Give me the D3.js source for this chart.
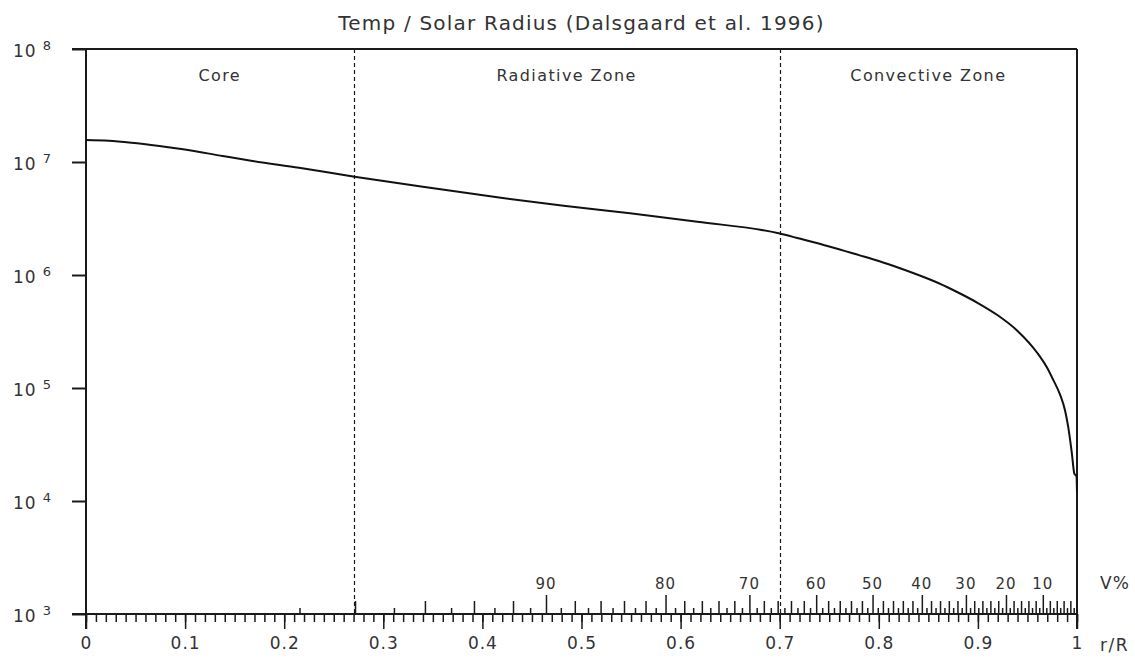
<!DOCTYPE html>
<html>
<head>
<meta charset="utf-8">
<script src="https://cdn.jsdelivr.net/npm/d3@7/dist/d3.min.js"></script>
<style>
  html, body { margin: 0; padding: 0; background: #fff; }
  svg { display: block; font-family: "DejaVu Sans", Verdana, sans-serif; }
</style>
</head>
<body>
<svg id="chart" width="1135" height="661"></svg>
<script>
// ---- data ----
const title = "Temp / Solar Radius (Dalsgaard et al. 1996)";
const radius = [0, 0.023, 0.046, 0.074, 0.098, 0.138, 0.168, 0.215, 0.271, 0.347, 0.415, 0.482, 0.549, 0.617, 0.699,
                0.72, 0.75, 0.78, 0.80, 0.82, 0.84, 0.86, 0.88, 0.90, 0.92, 0.94, 0.96, 0.97, 0.976, 0.983, 0.988, 0.991, 0.9947, 0.9973, 0.9995, 1.0];
const temperature = [1.566e7, 1.544e7, 1.482e7, 1.385e7, 1.295e7, 1.130e7, 1.021e7, 8.90e6, 7.41e6, 5.91e6, 4.87e6, 4.11e6, 3.52e6, 2.96e6, 2.34e6,
                     2.10e6, 1.79e6, 1.50e6, 1.33e6, 1.16e6, 1.00e6, 8.5e5, 7.0e5, 5.65e5, 4.4e5, 3.2e5, 2.04e5, 1.5e5, 1.18e5, 8.7e4, 6.3e4, 4.6e4, 2.7e4, 1.75e4, 1.65e4, 1.2e4];
const zoneBounds = [0.27, 0.7];
const zoneLabels = ["Core", "Radiative Zone", "Convective Zone"];
const xTicksMajor = [0, 0.1, 0.2, 0.3, 0.4, 0.5, 0.6, 0.7, 0.8, 0.9, 1];
const xTickLabels = ["0", "0.1", "0.2", "0.3", "0.4", "0.5", "0.6", "0.7", "0.8", "0.9", "1"];
const yTickExponents = [3, 4, 5, 6, 7, 8];
const volumePercents = d3.range(1, 100);          // V% ticks every 1 %
const volumeLabels = [90, 80, 70, 60, 50, 40, 30, 20, 10];

// ---- layout ----
const svg = d3.select("#chart");
const L = 86, R = 1077, T = 49, B = 614;
const x = d3.scaleLinear().domain([0, 1]).range([L, R]);
const y = d3.scaleLog().domain([1e3, 1e8]).range([B, T]);
const ink = "#1a1a1a";
const textCol = "#333";
const rOfV = v => Math.cbrt(1 - v / 100);

// title
svg.append("text").attr("x", (L + R) / 2).attr("y", 30).attr("text-anchor", "middle")
  .attr("font-size", 20).attr("letter-spacing", 1.2).attr("fill", textCol).text(title);

// zone labels
const edges = [0, ...zoneBounds, 1];
zoneLabels.forEach((lab, i) => {
  svg.append("text").attr("x", (x(edges[i]) + x(edges[i + 1])) / 2).attr("y", 81)
    .attr("text-anchor", "middle").attr("font-size", 16).attr("letter-spacing", 1.4)
    .attr("fill", textCol).text(lab);
});

// dashed zone boundaries
svg.selectAll("line.zone").data(zoneBounds).enter().append("line")
  .attr("x1", d => Math.round(x(d)) + 0.5).attr("x2", d => Math.round(x(d)) + 0.5)
  .attr("y1", T).attr("y2", B)
  .attr("stroke", ink).attr("stroke-width", 1.2).attr("stroke-dasharray", "4,3");

// bottom axis: minor 0.01 ticks
const minorAx = d3.axisBottom(x).tickValues(d3.range(0, 101).map(i => i / 100))
  .tickSize(8).tickSizeOuter(0).tickFormat("");
const gMinor = svg.append("g").attr("transform", `translate(0,${B})`).call(minorAx);
gMinor.select(".domain").remove();
gMinor.selectAll("line").attr("stroke", ink).attr("stroke-width", 1.5);

// bottom axis: major 0.1 ticks with labels
const majorAx = d3.axisBottom(x).tickValues(xTicksMajor).tickSize(15).tickPadding(8).tickSizeOuter(0)
  .tickFormat((d, i) => xTickLabels[i]);
const gMajor = svg.append("g").attr("transform", `translate(0,${B})`).call(majorAx);
gMajor.select(".domain").remove();
gMajor.selectAll("line").attr("stroke", ink).attr("stroke-width", 1.5);
gMajor.selectAll("text").attr("font-size", 17).attr("letter-spacing", 1).attr("fill", textCol)
  .attr("font-family", "DejaVu Sans, Verdana, sans-serif");

// V% ticks above the axis (odd short, even medium, tens tall)
function vAxis(values, size) {
  const ax = d3.axisTop(x).tickValues(values.map(rOfV)).tickSize(size).tickSizeOuter(0).tickFormat("");
  const g = svg.append("g").attr("transform", `translate(0,${B})`).call(ax);
  g.select(".domain").remove();
  g.selectAll("line").attr("stroke", ink).attr("stroke-width", 1.5);
}
vAxis(volumePercents.filter(v => v % 2 === 1), 6);
vAxis(volumePercents.filter(v => v % 2 === 0 && v % 10 !== 0), 13);
vAxis(volumePercents.filter(v => v % 10 === 0), 19);

svg.selectAll("text.vlab").data(volumeLabels).enter().append("text")
  .attr("x", d => x(rOfV(d))).attr("y", 589).attr("text-anchor", "middle")
  .attr("font-size", 15).attr("letter-spacing", 1).attr("fill", textCol).text(d => d);

svg.append("text").attr("x", 1100).attr("y", 589).attr("font-size", 17).attr("letter-spacing", 1)
  .attr("fill", textCol).text("V%");
svg.append("text").attr("x", 1100).attr("y", 651).attr("font-size", 17).attr("letter-spacing", 1.5)
  .attr("fill", textCol).text("r/R");

// left axis (log)
const yAx = d3.axisLeft(y).tickValues(yTickExponents.map(e => Math.pow(10, e))).tickSize(14).tickSizeOuter(0).tickFormat("");
const gY = svg.append("g").attr("transform", `translate(${L},0)`).call(yAx);
gY.select(".domain").remove();
gY.selectAll("line").attr("stroke", ink).attr("stroke-width", 2);

const yl = svg.selectAll("text.ylab").data(yTickExponents).enter().append("text")
  .attr("x", 13).attr("y", d => y(Math.pow(10, d)) + 8).attr("font-size", 17)
  .attr("letter-spacing", 1).attr("fill", textCol);
yl.append("tspan").text("10");
yl.append("tspan").attr("dx", 6).attr("dy", -7).attr("font-size", 13).text(d => d);

// frame lines
const frame = [
  [L - 14, T, R, T],   // top
  [L - 14, B, R, B],   // bottom axis
  [L, T, L, B + 15],   // left
  [R, T, R, B + 15]    // right
];
svg.selectAll("line.frame").data(frame).enter().append("line")
  .attr("x1", d => d[0]).attr("y1", d => d[1]).attr("x2", d => d[2]).attr("y2", d => d[3])
  .attr("stroke", ink).attr("stroke-width", 2);

// temperature curve
const data = radius.map((r, i) => ({ r, t: temperature[i] }));
const line = d3.line().x(d => x(d.r)).y(d => y(d.t)).curve(d3.curveMonotoneX);
svg.append("path").datum(data).attr("d", line)
  .attr("fill", "none").attr("stroke", "#111").attr("stroke-width", 2);
</script>
</body>
</html>
